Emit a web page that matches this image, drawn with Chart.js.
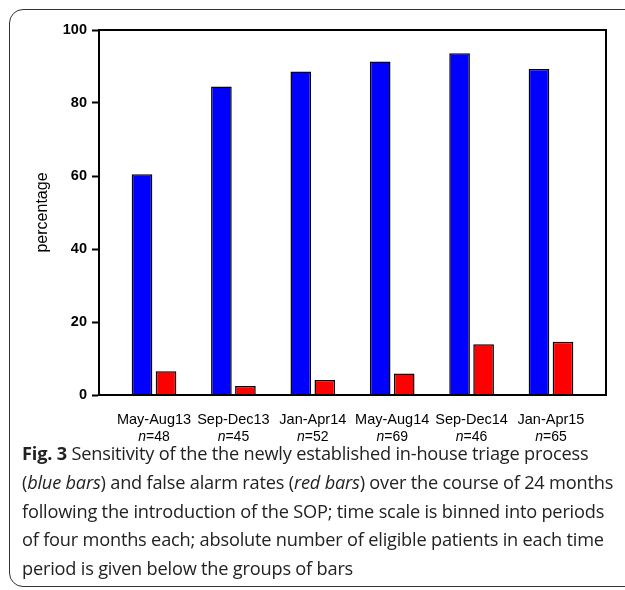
<!DOCTYPE html>
<html>
<head>
<meta charset="utf-8">
<script src="https://cdn.jsdelivr.net/npm/chart.js@4"></script>
<style>
    html, body { margin: 0; padding: 0; background: #fff; }
    body { width: 625px; height: 590px; position: relative; overflow: hidden; }
    .frame {
        position: absolute; left: 9px; top: 9px; width: 660px; height: 578px;
        border: 1.5px solid #333; border-radius: 14px; box-sizing: border-box;
    }
    #chart { position: absolute; left: 0; top: 0; }
    .caption {
        position: absolute; left: 22px; top: 439px;
        font-family: "Open Sans", sans-serif; font-size: 18.2px; line-height: 28.8px;
        letter-spacing: -0.2px; color: #222; white-space: nowrap;
    }
    .caption b { font-weight: 700; }
</style>
</head>
<body>
<div class="frame"></div>
<canvas id="chart" width="625" height="460"></canvas>
<div class="caption">
    <b>Fig. 3</b> Sensitivity of the the newly established in-house triage process<br>
    (<i>blue bars</i>) and false alarm rates (<i>red bars</i>) over the course of 24 months<br>
    following the introduction of the SOP; time scale is binned into periods<br>
    of four months each; absolute number of eligible patients in each time<br>
    period is given below the groups of bars
</div>
<script>
    // Data
    const periods = ['May-Aug13', 'Sep-Dec13', 'Jan-Apr14', 'May-Aug14', 'Sep-Dec14', 'Jan-Apr15'];
    const patients = [48, 45, 52, 69, 46, 65];
    const sensitivity = [60.5, 84.5, 88.6, 91.4, 93.6, 89.3];
    const falseAlarm = [6.5, 2.5, 4.1, 5.9, 13.9, 14.6];
    const yTicks = [0, 20, 40, 60, 80, 100];

    const FONT = '"Liberation Sans", Arial, sans-serif';
    const toPoints = (vals) => vals.map((v, i) => ({ x: i, y: v }));

    // Box round the plot area and the italic n= line under each label
    const framePlugin = {
        id: 'frame',
        afterDatasetsDraw(chart) {
            const { ctx, chartArea: a } = chart;
            ctx.save();
            ctx.strokeStyle = '#000';
            ctx.lineWidth = 2;
            ctx.strokeRect(a.left, a.top, a.right - a.left, a.bottom - a.top);
            ctx.restore();
        },
        afterDraw(chart) {
            const { ctx } = chart;
            const xs = chart.scales.x;
            ctx.save();
            ctx.fillStyle = '#000';
            ctx.textBaseline = 'middle';
            ctx.textAlign = 'left';
            patients.forEach((n, i) => {
                const cx = xs.getPixelForValue(i);
                const rest = '=' + n;
                ctx.font = 'italic 14px ' + FONT;
                const w1 = ctx.measureText('n').width;
                ctx.font = '14px ' + FONT;
                const w2 = ctx.measureText(rest).width;
                const x0 = cx - (w1 + w2) / 2;
                ctx.font = 'italic 14px ' + FONT;
                ctx.fillText('n', x0, 437);
                ctx.font = '14px ' + FONT;
                ctx.fillText(rest, x0 + w1, 437);
            });
            ctx.restore();
        }
    };

    new Chart(document.getElementById('chart'), {
        type: 'bar',
        data: {
            datasets: [{
                label: 'Sensitivity',
                data: toPoints(sensitivity),
                backgroundColor: '#0000ff',
                borderColor: '#000',
                borderWidth: 1.5,
                borderSkipped: 'bottom',
                categoryPercentage: 0.605,
                barPercentage: 0.86
            }, {
                label: 'False alarm rate',
                data: toPoints(falseAlarm),
                backgroundColor: '#ff0000',
                borderColor: '#000',
                borderWidth: 1.5,
                borderSkipped: 'bottom',
                categoryPercentage: 0.605,
                barPercentage: 0.86
            }]
        },
        options: {
            responsive: false,
            animation: false,
            layout: { padding: { left: 0, right: 19, top: 30, bottom: 0 } },
            plugins: {
                legend: { display: false },
                tooltip: { enabled: false }
            },
            scales: {
                x: {
                    type: 'linear',
                    min: -0.693,
                    max: 5.693,
                    offset: false,
                    grid: { display: false },
                    border: { color: '#000', width: 2 },
                    afterBuildTicks: (s) => { s.ticks = periods.map((_, i) => ({ value: i })); },
                    afterFit: (s) => { s.height = 65; },
                    ticks: {
                        autoSkip: false,
                        maxRotation: 0,
                        padding: 8,
                        color: '#000',
                        font: { family: FONT, size: 14.5 },
                        callback: (v) => periods[v] ?? ''
                    }
                },
                y: {
                    min: 0,
                    max: 100,
                    afterBuildTicks: (s) => { s.ticks = yTicks.map(v => ({ value: v })); },
                    afterFit: (s) => { s.width = 99; },
                    grid: {
                        drawOnChartArea: false,
                        tickLength: 7,
                        tickWidth: 2,
                        tickColor: '#000'
                    },
                    border: { color: '#000', width: 2 },
                    ticks: {
                        padding: 5,
                        color: '#000',
                        font: { family: FONT, size: 14.5, weight: 'bold' }
                    },
                    title: {
                        display: true,
                        text: 'percentage',
                        color: '#000',
                        padding: { top: 33, bottom: 0 },
                        font: { family: FONT, size: 16 }
                    }
                }
            }
        },
        plugins: [framePlugin]
    });
</script>
</body>
</html>
